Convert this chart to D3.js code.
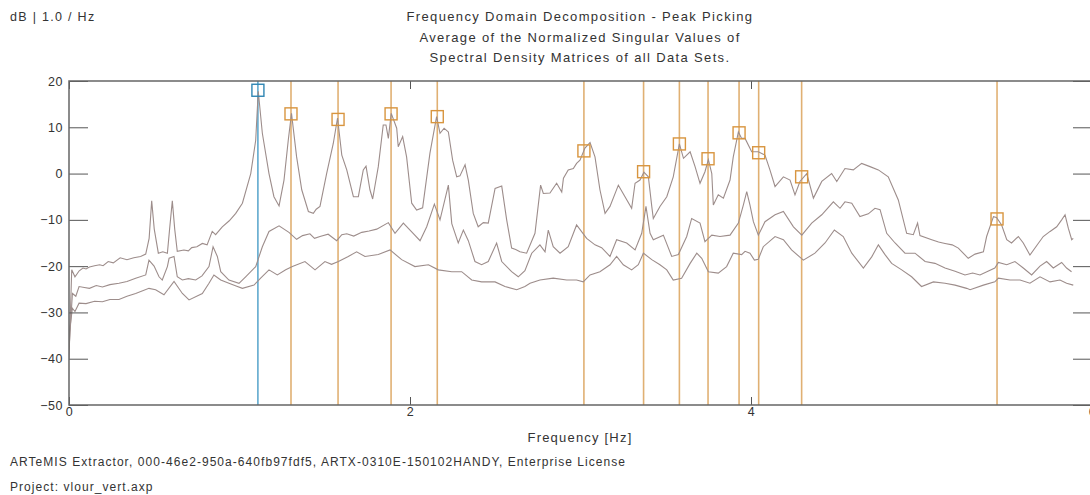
<!DOCTYPE html>
<html>
<head>
<meta charset="utf-8">
<script src="https://cdn.jsdelivr.net/npm/d3@7"></script>
<style>
  body { margin: 0; background: #fff; }
  text { font-family: "Liberation Sans", Arial, sans-serif; fill: #333; }
</style>
</head>
<body>
<div id="chart"></div>
<script>
// singular value curves, [frequency Hz, dB]
const sv1 = [
  [0,-40],[0.016,-20.8],[0.035,-22.3],[0.06,-21],[0.082,-20.4],[0.1,-20.6],[0.12,-20.2],[0.15,-19.9],[0.18,-19.7],[0.2,-19.9],
  [0.23,-19.0],[0.26,-19.3],[0.3,-18.2],[0.34,-18.6],[0.38,-18.2],[0.42,-17.9],[0.45,-17.4],[0.47,-14],[0.485,-5.9],[0.5,-12],
  [0.524,-17.2],[0.55,-16.9],[0.577,-17.2],[0.59,-12],[0.606,-5.9],[0.62,-12],[0.635,-16.8],[0.674,-16.5],[0.7,-16.7],[0.72,-16.0],
  [0.75,-15.8],[0.782,-15.1],[0.81,-15.4],[0.84,-12.5],[0.86,-13.2],[0.899,-11.5],[0.94,-10.2],[0.978,-8.6],[1.017,-6.4],[1.066,0],
  [1.095,7.2],[1.11,17.8],[1.134,8.7],[1.173,0],[1.202,-5],[1.232,-7],[1.261,-1.4],[1.286,7.2],[1.305,13],[1.335,3.6],
  [1.365,-3.5],[1.404,-8.2],[1.433,-8.6],[1.45,-7.7],[1.472,-7.1],[1.511,0],[1.55,6.5],[1.575,12],[1.6,4],[1.629,0.8],
  [1.668,-5],[1.697,-5],[1.726,0.8],[1.742,1.6],[1.765,-3.5],[1.781,-5.5],[1.814,1.5],[1.843,10.5],[1.859,10.5],[1.873,7.6],
  [1.89,13],[1.922,9.8],[1.931,5.8],[1.957,8],[1.98,3.6],[2.01,-6.4],[2.039,-7.9],[2.074,-7.4],[2.117,4.4],[2.156,12.3],
  [2.176,8.7],[2.2,9.8],[2.225,9],[2.25,2.9],[2.274,-0.7],[2.293,-0.5],[2.323,1.9],[2.342,-1.4],[2.371,-8.6],[2.4,-11.5],
  [2.43,-10.6],[2.459,-10.7],[2.499,-3.2],[2.538,-2.7],[2.567,-10],[2.596,-16.1],[2.62,-16.4],[2.645,-16.9],[2.684,-17.2],[2.733,-12.9],
  [2.766,-2.5],[2.782,-4.3],[2.821,-4.2],[2.86,-2.1],[2.89,-4],[2.9,-1],[2.928,0.8],[2.958,1.1],[2.977,2.2],[2.997,2.9],
  [3.026,5.5],[3.056,6.7],[3.085,3.6],[3.114,-3.5],[3.144,-8.6],[3.173,-7.1],[3.222,-2.5],[3.261,-5],[3.3,-7.5],[3.32,-2.1],
  [3.349,-1.4],[3.372,0.3],[3.398,-0.7],[3.418,-7.1],[3.427,-9.7],[3.466,-7.1],[3.506,-5],[3.544,-0.7],[3.58,6.4],[3.604,3.3],
  [3.643,4.7],[3.672,1.5],[3.701,-2.1],[3.73,0.4],[3.75,3.0],[3.77,0],[3.779,-6.8],[3.808,-4.6],[3.838,-5.3],[3.877,-1.4],
  [3.896,3.6],[3.926,9],[3.945,7.6],[3.965,7.6],[4.004,4.7],[4.043,4.7],[4.082,4],[4.111,0.8],[4.141,-2.8],[4.19,-0.7],
  [4.229,-1.4],[4.258,-4.6],[4.287,-1.7],[4.327,0],[4.366,-5.3],[4.415,-1.7],[4.473,0],[4.503,-1.7],[4.551,1.1],[4.6,0.8],
  [4.649,2.2],[4.698,1.5],[4.747,0.8],[4.805,-0.7],[4.864,-5.7],[4.913,-12.9],[4.952,-13.2],[4.977,-10.7],[4.991,-13.4],[5.06,-14.3],
  [5.1,-14.8],[5.138,-15.1],[5.18,-15.4],[5.216,-16.1],[5.274,-18.3],[5.314,-17.4],[5.363,-16.9],[5.382,-13.6],[5.422,-9.3],[5.44,-9.5],
  [5.47,-11.1],[5.5,-14.3],[5.528,-15],[5.568,-13.6],[5.597,-15],[5.636,-17.6],[5.675,-15.6],[5.714,-13.6],[5.754,-12.5],[5.793,-11.5],
  [5.822,-10],[5.842,-8.9],[5.861,-11.8],[5.881,-14.3],[5.89,-14]
];

const sv2 = [
  [0,-38],[0.02,-25.9],[0.04,-26.5],[0.059,-24.4],[0.09,-24.6],[0.12,-24.8],[0.16,-24.2],[0.196,-24.5],[0.24,-24.0],[0.293,-23.7],
  [0.34,-23.3],[0.391,-22.6],[0.45,-21.9],[0.469,-18.7],[0.499,-20],[0.528,-22.3],[0.547,-23],[0.577,-20.1],[0.587,-18.3],[0.616,-17.9],
  [0.635,-22.3],[0.665,-23],[0.7,-22.7],[0.743,-23],[0.78,-22.1],[0.821,-20.1],[0.845,-15.8],[0.87,-17.9],[0.89,-21.2],[0.938,-23],
  [0.997,-23.7],[1.036,-22.3],[1.095,-20.1],[1.134,-15.8],[1.173,-12.5],[1.232,-11.3],[1.29,-12.7],[1.335,-14.2],[1.37,-13.4],[1.413,-13],
  [1.44,-14],[1.472,-13.6],[1.52,-13.1],[1.57,-14.5],[1.6,-13.2],[1.629,-13],[1.67,-13.5],[1.717,-12.7],[1.76,-12.4],[1.805,-12],
  [1.873,-10.6],[1.912,-12.9],[1.961,-10.7],[2.01,-12.6],[2.059,-14.5],[2.098,-11.5],[2.143,-6.6],[2.176,-10],[2.225,-2.5],[2.245,-10.8],
  [2.283,-15],[2.313,-12.2],[2.342,-14.5],[2.381,-19],[2.42,-19.7],[2.459,-19],[2.508,-15],[2.538,-19],[2.596,-21.2],[2.635,-22.3],
  [2.674,-21],[2.714,-17.2],[2.762,-15.4],[2.792,-16.9],[2.811,-12.2],[2.84,-15.8],[2.88,-17.2],[2.928,-15.8],[2.977,-11.1],[3.036,-14],
  [3.085,-15.4],[3.124,-16],[3.173,-17.9],[3.212,-14.3],[3.271,-15],[3.32,-16.5],[3.359,-12.9],[3.384,-7.1],[3.408,-12.9],[3.427,-14.3],
  [3.486,-13.3],[3.535,-17.9],[3.574,-17.5],[3.623,-13.6],[3.652,-9.7],[3.701,-10.7],[3.73,-14.7],[3.77,-13.3],[3.818,-13.6],[3.877,-13.3],
  [3.926,-10.7],[3.955,-6.8],[3.975,-3.9],[3.994,-6.8],[4.014,-10.4],[4.043,-13.3],[4.082,-10.4],[4.141,-8.9],[4.19,-8.2],[4.249,-11.5],
  [4.298,-13.3],[4.356,-10.7],[4.415,-8.9],[4.483,-6.1],[4.522,-7.5],[4.551,-6.1],[4.591,-6.4],[4.639,-9.3],[4.688,-8.7],[4.727,-7.5],
  [4.757,-7.8],[4.796,-12.9],[4.845,-15],[4.903,-17.2],[4.962,-17.2],[5.021,-19],[5.079,-19.4],[5.138,-20.4],[5.197,-21.1],[5.255,-21.9],
  [5.3,-21.5],[5.343,-21.9],[5.43,-20.4],[5.451,-19.2],[5.5,-19.7],[5.548,-19],[5.597,-20.4],[5.646,-21.9],[5.695,-20],[5.734,-19],
  [5.773,-20.4],[5.822,-19.2],[5.851,-20.4],[5.88,-21.2]
];

const sv3 = [
  [0,-35],[0.02,-29.1],[0.035,-29.8],[0.059,-28],[0.1,-28.1],[0.15,-27.6],[0.196,-27.7],[0.24,-27.2],[0.293,-27.2],[0.34,-26.5],
  [0.391,-25.9],[0.469,-24.8],[0.508,-25.1],[0.557,-26.2],[0.616,-23.3],[0.665,-25.9],[0.704,-27.3],[0.782,-25.9],[0.821,-23.7],[0.85,-21.9],
  [0.89,-23],[0.938,-23.7],[0.98,-24.3],[1.017,-24.8],[1.085,-24.1],[1.124,-22.6],[1.173,-20.8],[1.222,-21.9],[1.271,-20.8],[1.31,-20.1],
  [1.384,-19],[1.443,-20.8],[1.501,-19],[1.54,-19.6],[1.58,-19],[1.638,-17.9],[1.687,-16.9],[1.736,-17.9],[1.814,-17.5],[1.883,-16.5],
  [1.951,-18.6],[2.029,-20.1],[2.108,-19.7],[2.166,-20.8],[2.245,-21.2],[2.303,-21.2],[2.362,-23],[2.42,-23.4],[2.499,-23.4],[2.557,-24.4],
  [2.626,-25.1],[2.674,-24.4],[2.704,-23.7],[2.762,-23],[2.84,-22.6],[2.919,-23],[2.977,-23],[3.016,-23.4],[3.056,-21.9],[3.114,-21.2],
  [3.173,-19.7],[3.212,-17.9],[3.251,-19.7],[3.3,-20.8],[3.339,-19.7],[3.369,-17.2],[3.418,-18.6],[3.466,-19.7],[3.506,-20.8],[3.544,-23],
  [3.593,-22.6],[3.643,-19.4],[3.682,-17.2],[3.711,-18.3],[3.75,-21.2],[3.808,-21.5],[3.857,-20.1],[3.896,-17.2],[3.945,-17.5],[3.965,-16.8],
  [3.994,-17.2],[4.02,-18.7],[4.043,-18.5],[4.072,-15.8],[4.141,-13.6],[4.19,-14.3],[4.238,-16.5],[4.307,-18.7],[4.375,-17.2],[4.434,-15],
  [4.489,-12.2],[4.541,-13.6],[4.591,-17.2],[4.659,-20.4],[4.708,-18],[4.747,-15.4],[4.786,-17.5],[4.825,-19.4],[4.884,-20.8],[4.942,-22.3],
  [5.0,-24.4],[5.07,-23.4],[5.138,-23.7],[5.197,-24.1],[5.265,-24.8],[5.285,-25.1],[5.363,-24.1],[5.43,-23.4],[5.451,-22.6],[5.519,-23],
  [5.578,-23],[5.636,-23.7],[5.695,-22.3],[5.754,-23.4],[5.812,-23],[5.851,-23.7],[5.89,-24.1]
];

// picked peaks
const peakFreqs = [1.108, 1.302, 1.578, 1.889, 2.160, 3.020, 3.370, 3.580, 3.748, 3.930, 4.045, 4.297, 5.443];
const peakDb    = [18.0, 12.9, 11.7, 12.9, 12.3, 4.9, 0.4, 6.4, 3.2, 8.8, 4.5, -0.7, -9.8];
const selectedPeak = 0;

const yTicks = [20, 10, 0, -10, -20, -30, -40, -50];
const xTicks = [0, 2, 4, 6];

const titleLines = [
  "Frequency Domain Decomposition - Peak Picking",
  "Average of the Normalized Singular Values of",
  "Spectral Density Matrices of all Data Sets."
];

const W = 1090, H = 495;
const plot = {left: 69, right: 1092, top: 81, bottom: 405};

const curveColor = "#9d8d8b";
const orange = "#dba25a";
const blue = "#3b95c2";

const svg = d3.select("#chart").append("svg")
  .attr("width", W).attr("height", H);

const x = d3.scaleLinear().domain([0, 6]).range([plot.left, plot.right]);
const y = d3.scaleLinear().domain([-50, 20]).range([plot.bottom, plot.top]);

svg.append("clipPath").attr("id", "clip")
  .append("rect")
  .attr("x", plot.left).attr("y", plot.top)
  .attr("width", plot.right - plot.left).attr("height", plot.bottom - plot.top);

// peak lines
const peaks = peakFreqs.map((f, i) => ({f: f, db: peakDb[i], sel: i === selectedPeak}));

svg.append("g").attr("clip-path", "url(#clip)")
  .selectAll("line").data(peaks).join("line")
  .attr("x1", d => x(d.f)).attr("x2", d => x(d.f))
  .attr("y1", plot.top).attr("y2", plot.bottom)
  .attr("stroke", d => d.sel ? blue : orange)
  .attr("stroke-opacity", d => d.sel ? 1 : 0.85)
  .attr("stroke-width", d => d.sel ? 1.3 : 1.6);

// curves
const line = d3.line().x(d => x(d[0])).y(d => y(d[1]));

svg.append("g").attr("clip-path", "url(#clip)")
  .selectAll("path").data([sv3, sv2, sv1]).join("path")
  .attr("d", line)
  .attr("fill", "none")
  .attr("stroke", curveColor)
  .attr("stroke-width", 1.1);

// peak squares
svg.append("g")
  .selectAll("rect").data(peaks).join("rect")
  .attr("x", d => x(d.f) - 6).attr("y", d => y(d.db) - 6)
  .attr("width", 12).attr("height", 12)
  .attr("fill", "none")
  .attr("stroke", d => d.sel ? "#2f86b3" : "#d8953f")
  .attr("stroke-width", 1.4);

// axes, ticks pointing inward
const axisStyle = g => {
  g.select(".domain").remove();
  g.selectAll(".tick line").attr("stroke", "#555");
  g.selectAll(".tick text").attr("fill", "#333")
    .style("font-family", "'Liberation Sans', Arial, sans-serif")
    .style("font-size", "12.5px")
    .style("letter-spacing", "0.5px");
};

svg.append("g")
  .attr("transform", `translate(${plot.left},0)`)
  .call(d3.axisLeft(y).tickValues(yTicks).tickSize(-19).tickPadding(6).tickFormat(d3.format("d")))
  .call(axisStyle);

svg.append("g")
  .attr("transform", `translate(${plot.right},0)`)
  .call(d3.axisRight(y).tickValues(yTicks).tickSize(-19).tickFormat(""))
  .call(axisStyle);

svg.append("g")
  .attr("transform", `translate(0,${plot.bottom})`)
  .call(d3.axisBottom(x).tickValues(xTicks).tickSize(-8).tickPadding(2).tickFormat(d3.format("d")))
  .call(axisStyle);

svg.append("g")
  .attr("transform", `translate(0,${plot.top})`)
  .call(d3.axisTop(x).tickValues(xTicks).tickSize(-8).tickFormat(""))
  .call(axisStyle);

// frame
svg.append("path")
  .attr("d", `M${plot.right},${plot.top}H${plot.left}V${plot.bottom}H${plot.right}`)
  .attr("fill", "none")
  .attr("stroke", "#666")
  .attr("stroke-width", 1.5);

// texts
svg.append("text").attr("x", 10).attr("y", 21)
  .style("font-size", "12.5px").style("letter-spacing", "1.3px")
  .text("dB | 1.0 / Hz");

svg.append("g").selectAll("text").data(titleLines).join("text")
  .attr("x", 580).attr("y", (d, i) => 21 + i * 20.5)
  .attr("text-anchor", "middle")
  .style("font-size", "13px").style("letter-spacing", "1.35px")
  .text(d => d);

svg.append("text").attr("x", 580).attr("y", 442)
  .attr("text-anchor", "middle")
  .style("font-size", "13px").style("letter-spacing", "1.2px")
  .text("Frequency [Hz]");

svg.append("text").attr("x", 10).attr("y", 466)
  .style("font-size", "12px").style("letter-spacing", "1.05px")
  .text("ARTeMIS Extractor, 000-46e2-950a-640fb97fdf5, ARTX-0310E-150102HANDY, Enterprise License");

svg.append("text").attr("x", 10).attr("y", 491)
  .style("font-size", "12px").style("letter-spacing", "1.05px")
  .text("Project: vlour_vert.axp");
</script>
</body>
</html>
